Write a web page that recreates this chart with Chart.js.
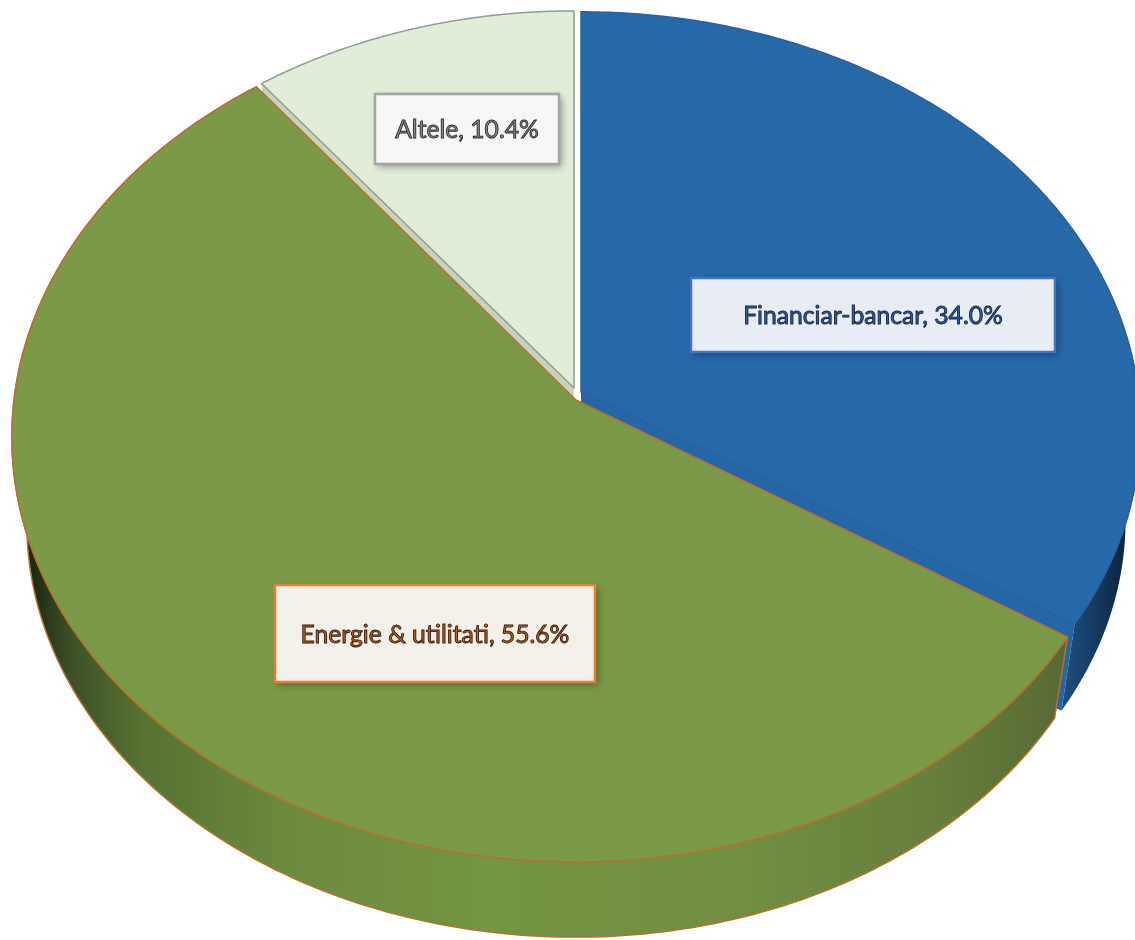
<!DOCTYPE html>
<html>
<head>
<meta charset="utf-8">
<title>Structura</title>
<script src="https://cdn.jsdelivr.net/npm/chart.js@4"></script>
<style>
  html, body { margin: 0; padding: 0; background: #fff; overflow: hidden; }
  canvas { display: block; filter: blur(0.5px); }
</style>
</head>
<body>
<canvas id="grafic" width="1135" height="940"></canvas>
<script>
const categorii = ['Financiar-bancar', 'Energie & utilitati', 'Altele'];
const valori = [34.0, 55.6, 10.4];

// look of each slice, same order as categorii
const culoriFata = ['#2569a9', '#7a9a48', '#e1edd7'];
const culoriContur = ['#2d5f9f', '#b8702e', '#8f9c90'];
const etichete = [
  { x: 691, y: 278, w: 364, h: 74, fond: '#e8edf5', bord: '#4472c4', text: '#2f5ca8', umbra: '#16233f' },
  { x: 275, y: 585, w: 320, h: 97, fond: '#f2f0e8', bord: '#ed7d31', text: '#c65f1c', umbra: '#2a170c' },
  { x: 375, y: 94, w: 184, h: 70, fond: '#f6f6f4', bord: '#a5a5a5', text: '#8a8a8a', umbra: '#2e2e2e' }
];

// the tilted disc: unit circle -> screen, fitted on the picture
const DISC = { cx: 577, cy: 400, rx: 562, ry: 386.9, k: -0.0871 };
const JOS = { s: 0.9735, dy: 98 }; // bottom rim of the cylinder
const felii = [
  { ax: 581, ay: 392, sx: 0.99, sy: 0.98, rxDreapta: 563, dyJos: 5 },
  { ax: 576, ay: 400, sx: 1, sy: 1, rxDreapta: 555, dyJos: 0 },
  { ax: 574, ay: 388, sx: 0.978, sy: 0.972, rxDreapta: 563, dyJos: 0 }
];

function punct(t, f) {
  const u = Math.cos(t), v = Math.sin(t), w = 1 + DISC.k * v;
  const rx = u > 0 ? f.rxDreapta : DISC.rx;
  return {
    x: f.ax + f.sx * rx * u / w,
    y: f.ay + f.sy * DISC.ry * v / w + f.sy * DISC.cy * (1 / w - 1)
  };
}

function jos(p, f) {
  return { x: DISC.cx + JOS.s * (p.x - DISC.cx), y: JOS.dy + f.dyJos + JOS.s * p.y };
}

function margine(arc, f) {
  const pasi = 200, pts = [];
  for (let i = 0; i <= pasi; i++) {
    pts.push(punct(arc.startAngle + (arc.endAngle - arc.startAngle) * i / pasi, f));
  }
  return pts;
}

function traseu(ctx, pts, inchis) {
  ctx.beginPath();
  pts.forEach((p, i) => i ? ctx.lineTo(p.x, p.y) : ctx.moveTo(p.x, p.y));
  if (inchis) ctx.closePath();
}

function fataSus(ctx, pts, f, i) {
  traseu(ctx, [{ x: f.ax, y: f.ay }, ...pts], true);
  ctx.fillStyle = culoriFata[i];
  ctx.fill();
  ctx.strokeStyle = culoriContur[i];
  ctx.lineWidth = 1.5;
  ctx.stroke();
}

const disc3d = {
  id: 'disc3d',
  // the library's flat arcs are replaced by the tilted ones, angles stay the library's
  beforeDatasetsDraw(chart) {
    const ctx = chart.ctx;
    const arce = chart.getDatasetMeta(0).data;
    const rim = arce.map((a, i) => margine(a, felii[i]));
    ctx.save();
    ctx.lineJoin = 'round';

    // Altele: thin side showing next to the green slice
    const fA = felii[2], capA = rim[2][0], apexA = { x: fA.ax, y: fA.ay };
    traseu(ctx, [apexA, capA, jos(capA, fA), jos(apexA, fA)], true);
    ctx.fillStyle = '#c8d2bc';
    ctx.fill();
    fataSus(ctx, rim[2], fA, 2);

    // Financiar: outer wall, cut face, top
    const fB = felii[0], capB = rim[0][rim[0].length - 1], apexB = { x: fB.ax, y: fB.ay };
    const gB = ctx.createLinearGradient(1060, 0, 1135, 0);
    gB.addColorStop(0, '#1e5285');
    gB.addColorStop(0.6, '#123457');
    gB.addColorStop(1, '#0a1d33');
    traseu(ctx, [...rim[0], ...rim[0].map(p => jos(p, fB)).reverse()], true);
    ctx.fillStyle = gB;
    ctx.fill();
    traseu(ctx, [apexB, capB, jos(capB, fB), jos(apexB, fB)], true);
    ctx.fillStyle = '#2367a6';
    ctx.fill();
    fataSus(ctx, rim[0], fB, 0);

    // Energie: wall then top
    const fG = felii[1];
    const gG = ctx.createLinearGradient(20, 0, 1060, 0);
    gG.addColorStop(0, '#141c0c');
    gG.addColorStop(0.05, '#3d5228');
    gG.addColorStop(0.12, '#567333');
    gG.addColorStop(0.25, '#6a8a3e');
    gG.addColorStop(0.45, '#739642');
    gG.addColorStop(0.7, '#708f42');
    gG.addColorStop(0.88, '#677f3d');
    gG.addColorStop(1, '#586b35');
    traseu(ctx, [...rim[1], ...rim[1].map(p => jos(p, fG)).reverse()], true);
    ctx.fillStyle = gG;
    ctx.fill();
    ctx.strokeStyle = culoriContur[1];
    ctx.lineWidth = 1.5;
    ctx.stroke();
    fataSus(ctx, rim[1], fG, 1);

    ctx.restore();
    return false;
  },
  afterDraw(chart) {
    const ctx = chart.ctx;
    ctx.save();
    etichete.forEach((e, i) => {
      const text = categorii[i] + ', ' + valori[i].toFixed(1) + '%';
      ctx.save();
      ctx.shadowColor = 'rgba(0,0,0,0.35)';
      ctx.shadowBlur = 7;
      ctx.shadowOffsetX = 3;
      ctx.shadowOffsetY = 3;
      ctx.fillStyle = e.fond;
      ctx.fillRect(e.x, e.y, e.w, e.h);
      ctx.restore();
      ctx.strokeStyle = e.bord;
      ctx.lineWidth = 2.5;
      ctx.strokeRect(e.x, e.y, e.w, e.h);

      ctx.font = '24.7px Lato';
      ctx.textAlign = 'center';
      ctx.textBaseline = 'middle';
      const mx = e.x + e.w / 2, my = e.y + e.h / 2 + 1.5;
      // outline goes over the fill, the glyphs read dark as in the original
      ctx.fillStyle = e.text;
      ctx.fillText(text, mx, my);
      ctx.lineWidth = 0.9;
      ctx.strokeStyle = e.umbra;
      ctx.strokeText(text, mx, my);
    });
    ctx.restore();
  }
};

new Chart(document.getElementById('grafic').getContext('2d'), {
  type: 'pie',
  data: {
    labels: categorii,
    datasets: [{ data: valori, backgroundColor: culoriFata, borderColor: culoriContur }]
  },
  options: {
    responsive: false,
    animation: false,
    devicePixelRatio: 1,
    plugins: { legend: { display: false }, tooltip: { enabled: false } }
  },
  plugins: [disc3d]
});
</script>
</body>
</html>
